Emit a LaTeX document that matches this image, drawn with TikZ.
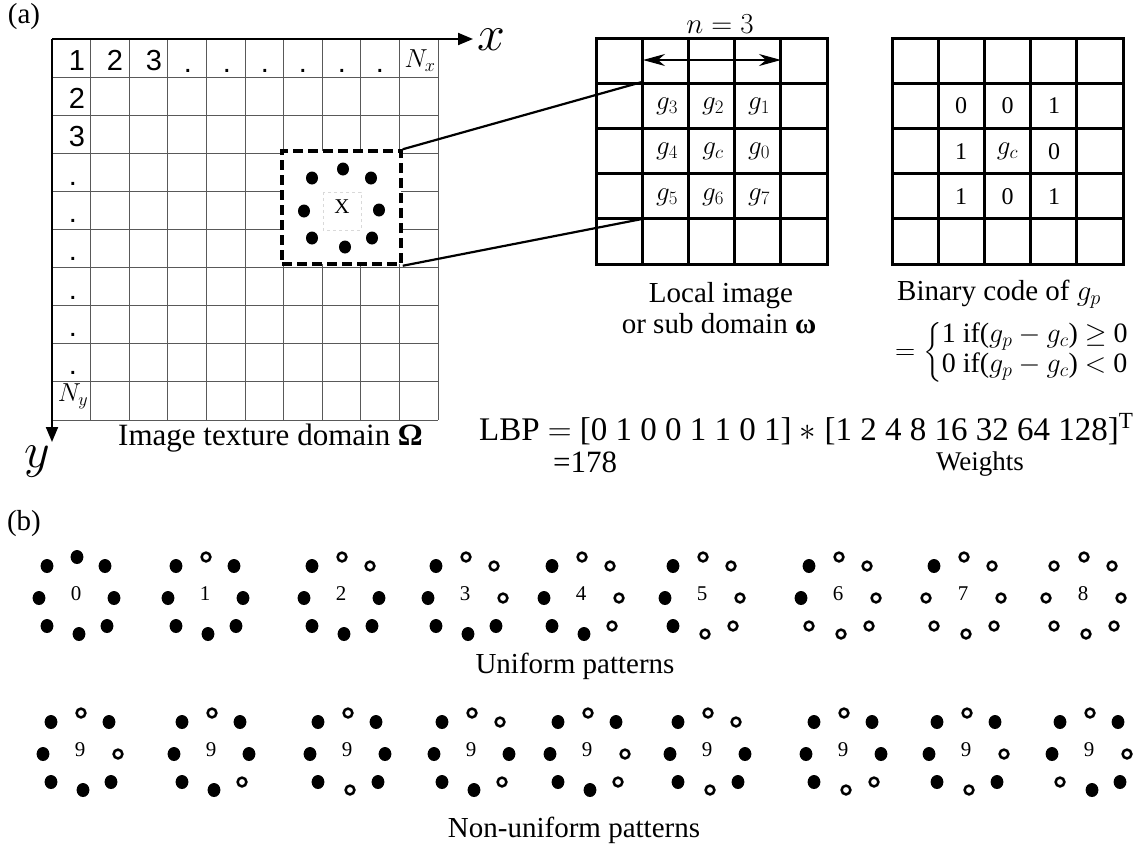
\RequirePackage{fix-cm}
\documentclass[tikz,border=0pt]{standalone}
\usepackage{amsmath}
\usepackage{fontspec}
\setmainfont{Liberation Serif}
\newfontfamily\arialf{Liberation Sans}
\usetikzlibrary{arrows.meta}
\newcommand\fs[1]{\fontsize{#1}{#1}\selectfont}
\newcommand\lbpat[5]{%
  \node[plab] (#1) at ({#2},{#3-2}) {#4};
  \foreach \dx/\dy [count=\k from 0] in {-29/-30,1/-39,29/-30,-37/2,38/2,-29/30,3/38,31/30}{%
    \pgfmathtruncatemacro\st{{#5}[\k]}%
    \ifnum\st=1
      \draw[line width=2.5pt] ({#2+\dx},{#3+\dy}) circle[radius=4.4pt];
    \else
      \fill ({#2+\dx},{#3+\dy}) ellipse[x radius=6.4pt,y radius=7pt];
    \fi
  }}
\begin{document}
\begin{tikzpicture}[x=1pt,y=-1pt,
  gridthin/.style={draw=black!65, line width=1pt},
  axisline/.style={line width=2pt, -{Triangle[length=15pt,width=12pt]}},
  thickgrid/.style={line width=3pt},
  conn/.style={line width=2.2pt},
  lbl/.style={font=\fs{29}, inner sep=0pt},
  gnum/.style={font=\arialf\fs{29}, inner sep=0pt, anchor=base},
  cellm/.style={font=\fs{27}, inner sep=0pt},
  celld/.style={font=\fs{24}, inner sep=0pt},
  plab/.style={font=\fs{21}, inner sep=0pt}]
\useasboundingbox (0,0) rectangle (1147,847);

% ---------- (a) main grid ----------
\node[lbl] (la) at (24,17) {(a)};
\foreach \i in {1,...,10} \draw[gridthin] ({52+\i*38.6},39) -- ({52+\i*38.6},420);
\foreach \j in {1,...,10} \draw[gridthin] (52,{39+\j*38.1}) -- (438,{39+\j*38.1});
\coordinate (O) at (52,39);
\coordinate (xend) at (473,39);
\coordinate (yend) at (52,442);
\draw[axisline] (O) -- (xend);
\draw[axisline] (O) -- (yend);
\node[font=\fs{50}, inner sep=0pt] (xlab) at (491,40) {$x$};
\node[font=\fs{50}, inner sep=0pt] (ylab) at (37,462) {$y$};

\node[gnum] (c1) at (77,70) {1};
\node[gnum] (c2) at (115,70) {2};
\node[gnum] (c3) at (154,70) {3};
\foreach \xx in {188,227,265,303,342,380} \node[gnum] (rd\xx) at (\xx,72) {.};
\node[font=\fs{26}, inner sep=0pt] (nx) at (420,61) {$N_x$};
\node[gnum] (r2) at (77,108) {2};
\node[gnum] (r3) at (77,146) {3};
\foreach \yy in {185,222,260,299,336,374} \node[gnum] (cd\yy) at (73,\yy) {.};
\node[font=\fs{26}, inner sep=0pt] (ny) at (73,396) {$N_y$};

% dashed window
\node[draw, fill=white, line width=3.5pt, dash pattern=on 10pt off 5pt,
      minimum width=119pt, minimum height=113pt, inner sep=0pt] (win) at (341.5,207.5) {};
\draw[black!15, dashed, line width=0.8pt] (323,192) rectangle (361,230);
\foreach \px/\py in {312/178,343/169,371/178,304/211,379/210,312/238,345/247,372/238}
  \fill (\px,\py) ellipse[x radius=6pt,y radius=6.5pt];
\node[font=\fs{21}, inner sep=0pt] (cx) at (342,207) {X};

% connectors
\coordinate (lga) at (642,82);
\coordinate (lgb) at (642,219);
\draw[conn] (win.north east) -- (lga);
\draw[conn] (win.south east) -- (lgb);

% local grid
\draw[thickgrid] (596,38) rectangle (827,264);
\foreach \i in {1,...,4} \draw[thickgrid] ({596+\i*46.2},38) -- ({596+\i*46.2},264);
\foreach \j in {1,...,4} \draw[thickgrid] (596,{38+\j*45.2}) -- (827,{38+\j*45.2});
\coordinate (na) at (643,60);
\coordinate (nb) at (781,60);
\draw[{Stealth[length=22pt,width=12pt,inset=7pt]}-{Stealth[length=22pt,width=12pt,inset=7pt]}, line width=1.2pt] (na) -- (nb);
\node[font=\fs{29}, inner sep=0pt, anchor=base] (nlab) at (720,33) {$n=3$};
\node[cellm] (g3) at (667,106) {$g_3$};
\node[cellm] (g2) at (713,106) {$g_2$};
\node[cellm] (g1) at (759,106) {$g_1$};
\node[cellm] (g4) at (667,151.5) {$g_4$};
\node[cellm] (gc) at (713,151.5) {$g_c$};
\node[cellm] (g0) at (759,151.5) {$g_0$};
\node[cellm] (g5) at (667,197) {$g_5$};
\node[cellm] (g6) at (713,197) {$g_6$};
\node[cellm] (g7) at (759,197) {$g_7$};
\node[lbl, anchor=base] (loc1) at (721,302) {Local image};
\node[lbl, anchor=base] (loc2) at (719,333) {or sub domain \textbf{ω}};

% binary grid
\draw[thickgrid] (892,38) rectangle (1123,264);
\foreach \i in {1,...,4} \draw[thickgrid] ({892+\i*46.2},38) -- ({892+\i*46.2},264);
\foreach \j in {1,...,4} \draw[thickgrid] (892,{38+\j*45.2}) -- (1123,{38+\j*45.2});
\node[celld] (b3) at (961,106) {0};
\node[celld] (b2) at (1007.5,106) {0};
\node[celld] (b1) at (1054,106) {1};
\node[celld] (b4) at (961,151.5) {1};
\node[cellm] (bc) at (1007.5,151.5) {$g_c$};
\node[celld] (b0) at (1054,151.5) {0};
\node[celld] (b5) at (961,197) {1};
\node[celld] (b6) at (1007.5,197) {0};
\node[celld] (b7) at (1054,197) {1};
\node[lbl, anchor=base west] (bin) at (897,300) {Binary code of $g_p$};
\node[font=\fs{28}, inner sep=0pt, anchor=west] (cases) at (895,352)
  {$=\left\{\begin{tabular}{@{}l@{}}1 if($g_p-g_c$) $\geq$ 0\\[2pt]0 if($g_p-g_c$) $<$ 0\end{tabular}\right.$};

% LBP equation
\node[font=\fs{31}, inner sep=0pt, anchor=base west] (dom) at (118,445) {Image texture domain \textbf{Ω}};
\node[font=\fs{33}, inner sep=0pt, anchor=base west] (lbp) at (479,440)
  {LBP $=$ [0 1 0 0 1 1 0 1] $\ast$ [1 2 4 8 16 32 64 128]$^{\mathrm{T}}$};
\node[font=\fs{31}, inner sep=0pt, anchor=base west] (res) at (553,472) {=178};
\node[font=\fs{27}, inner sep=0pt, anchor=base] (wt) at (980,470) {Weights};

% ---------- (b) patterns ----------
\node[lbl] (lb) at (24,524) {(b)};
\lbpat{u0}{76}{596}{0}{0,0,0,0,0,0,0,0}
\lbpat{u1}{205}{596}{1}{0,1,0,0,0,0,0,0}
\lbpat{u2}{341}{596}{2}{0,1,1,0,0,0,0,0}
\lbpat{u3}{465}{596}{3}{0,1,1,0,1,0,0,0}
\lbpat{u4}{581}{596}{4}{0,1,1,0,1,0,0,1}
\lbpat{u5}{702}{596}{5}{0,1,1,0,1,0,1,1}
\lbpat{u6}{838}{596}{6}{0,1,1,0,1,1,1,1}
\lbpat{u7}{963}{596}{7}{0,1,1,1,1,1,1,1}
\lbpat{u8}{1083}{596}{8}{1,1,1,1,1,1,1,1}
\node[lbl, anchor=base] (uni) at (575,673) {Uniform patterns};

\lbpat{n1}{80}{752}{9}{0,1,0,0,1,0,0,0}
\lbpat{n2}{211}{752}{9}{0,1,0,0,0,0,0,1}
\lbpat{n3}{347}{752}{9}{0,1,0,0,0,0,1,0}
\lbpat{n4}{471}{752}{9}{0,1,1,0,0,0,0,1}
\lbpat{n5}{587}{752}{9}{0,1,0,0,1,0,0,1}
\lbpat{n6}{707}{752}{9}{0,1,1,0,0,0,1,0}
\lbpat{n7}{843}{752}{9}{0,1,0,0,0,0,1,1}
\lbpat{n8}{966}{752}{9}{0,1,0,0,1,0,1,0}
\lbpat{n9}{1089}{752}{9}{0,1,0,0,1,1,0,0}
\node[lbl, anchor=base] (nonuni) at (574,837) {Non-uniform patterns};
\end{tikzpicture}
\end{document}
